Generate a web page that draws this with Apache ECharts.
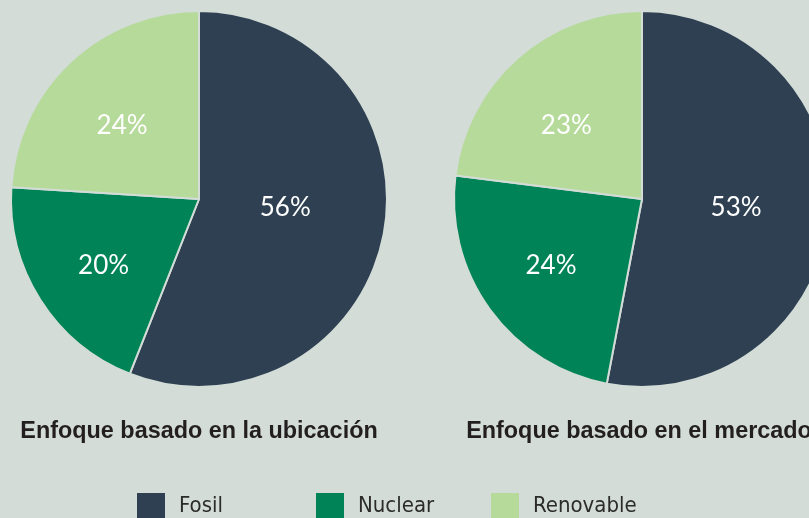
<!DOCTYPE html>
<html>
<head>
<meta charset="utf-8">
<script src="https://cdn.jsdelivr.net/npm/echarts@6/dist/echarts.min.js"></script>
<style>
  html, body { margin: 0; padding: 0; background: #d3dcd7; }
  #chart { width: 809px; height: 518px; }
</style>
</head>
<body>
<div id="chart"></div>
<script>
// categorias y valores (%)
var categories = ['Fosil', 'Nuclear', 'Renovable'];
var colors = ['#2e4052', '#008457', '#b5da9a'];
var ubicacion = [56, 20, 24];
var mercado = [53, 24, 23];
var titles = ['Enfoque basado en la ubicación', 'Enfoque basado en el mercado'];

var bg = '#d3dcd7';
var textDark = '#231f20';

function pieSeries(values, cx, shifts) {
    return {
        type: 'pie',
        center: [cx, 199],
        radius: 188,
        startAngle: 90,
        clockwise: true,
        silent: true,
        itemStyle: { borderColor: bg, borderWidth: 2 },
        label: {
            show: true,
            position: 'inside',
            formatter: '{c}%',
            color: '#ffffff',
            fontFamily: 'Lato',
            fontWeight: 'normal',
            fontSize: 26
        },
        // ajuste fino de la posicion de las etiquetas
        labelLayout: function (p) {
            return { dx: shifts[p.dataIndex][0], dy: shifts[p.dataIndex][1] };
        },
        labelLine: { show: false },
        data: categories.map(function (name, i) {
            return { name: name, value: values[i], itemStyle: { color: colors[i] } };
        })
    };
}

function legendItem(i, x) {
    return {
        data: [categories[i]],
        left: x,
        top: 491,
        padding: 0,
        icon: 'rect',
        itemWidth: 30,
        itemHeight: 28,
        selectedMode: false,
        textStyle: {
            fontFamily: "'Liberation Sans Narrow', 'DejaVu Sans Condensed', 'Liberation Sans', sans-serif",
            fontSize: 22,
            color: '#2b2b2b',
            padding: [0, 0, 0, 8]
        }
    };
}

var chart = echarts.init(document.getElementById('chart'));
var option = {
    backgroundColor: bg,
    animation: false,
    title: [
        {
            text: titles[0], left: 194, top: 415, textAlign: 'center',
            textStyle: { fontFamily: 'Liberation Sans', fontWeight: 'bold', fontSize: 23.4, color: textDark }
        },
        {
            text: titles[1], left: 634, top: 415, textAlign: 'center',
            textStyle: { fontFamily: 'Liberation Sans', fontWeight: 'bold', fontSize: 23.4, color: textDark }
        }
    ],
    legend: [
        legendItem(0, 135),
        legendItem(1, 314),
        legendItem(2, 489)
    ],
    series: [
        pieSeries(ubicacion, 199, [[-9, -10], [-13.5, 15], [-10.5, -3]]),
        pieSeries(mercado, 642, [[-2.5, -1], [-12.5, 10], [-11.5, -1]])
    ]
};
chart.setOption(option);
</script>
</body>
</html>
